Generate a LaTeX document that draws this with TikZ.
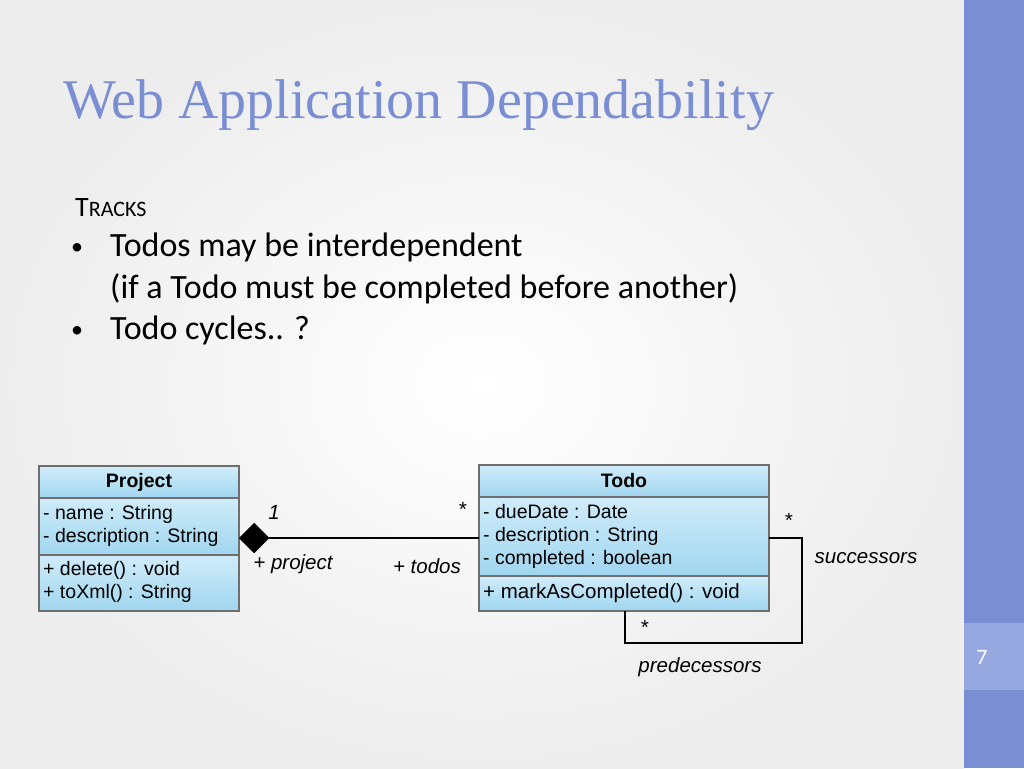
\documentclass[tikz,border=0pt]{standalone}
\usepackage{fontspec}
\setmainfont{Carlito}
\newfontfamily\titlefont{Liberation Serif}
\newfontfamily\umlfont{Liberation Sans}
\usetikzlibrary{shapes.geometric}
\definecolor{accent}{RGB}{122,142,212}
\definecolor{accentlt}{RGB}{150,168,224}
\definecolor{boxtop}{RGB}{208,236,250}
\definecolor{boxbot}{RGB}{160,214,240}
\definecolor{boxline}{RGB}{110,110,110}
\tikzset{
  cell/.style={draw=boxline,line width=1.8pt,top color=boxtop,bottom color=boxbot},
  umltxt/.style={font=\umlfont\fontsize{19.5}{23}\selectfont,anchor=west,align=left,inner sep=0pt},
  umlhead/.style={font=\umlfont\bfseries\fontsize{19.5}{23}\selectfont,inner sep=0pt},
  role/.style={font=\umlfont\itshape\fontsize{20.5}{24}\selectfont,inner sep=0pt},
  bodytxt/.style={font=\fontsize{34}{40}\selectfont,anchor=base west,inner sep=0pt},
}
\begin{document}
\begin{tikzpicture}[x=1pt,y=-1pt]
\useasboundingbox (0,0) rectangle (1024,768);
\shade[inner color=white,outer color=black!7] (0,0) rectangle (964,768);
\fill[accent] (964,0) rectangle (1024,768);
\fill[accentlt] (964,623) rectangle (1024,690);
\node[font=\fontsize{22}{26}\selectfont,text=white] (pg) at (982,657) {7};
\node[font=\titlefont\fontsize{56}{66}\selectfont,text=accent,anchor=base west,inner sep=0pt] (title) at (63,118) {Web Application Dependability};
\node[font=\fontsize{28}{32}\selectfont,anchor=base west,inner sep=0pt] (tr) at (75,216) {T{\fontsize{22}{26}\selectfont RACKS}};
\node[bodytxt] (b1) at (110,256) {Todos may be interdependent};
\node[bodytxt] (b1b) at (110,298) {(if a Todo must be completed before another)};
\node[bodytxt] (b2) at (110,339) {Todo cycles.. ?};
\node[font=\fontsize{24}{28}\selectfont,anchor=base west,inner sep=0pt] (d1) at (71,254) {\textbullet};
\node[font=\fontsize{24}{28}\selectfont,anchor=base west,inner sep=0pt] (d2) at (71,337) {\textbullet};
% Project
\draw[cell] (39,466) rectangle (239,498);
\draw[cell] (39,498) rectangle (239,555);
\draw[cell] (39,555) rectangle (239,611);
\coordinate (projR) at (239,538);
\node[umlhead] (ph) at (139,482) {Project};
\node[umltxt] (pa) at (43,526) {- name : String\\- description : String};
\node[umltxt] (pm) at (43,582) {+ delete() : void\\+ toXml() : String};
% Todo
\draw[cell] (479,465) rectangle (769,497);
\draw[cell] (479,497) rectangle (769,576);
\draw[cell] (479,576) rectangle (769,611);
\coordinate (todoL) at (479,538);
\coordinate (todoR) at (769,538);
\coordinate (todoB) at (625,611);
\node[umlhead] (th) at (624,481) {Todo};
\node[umltxt] (ta) at (483,536) {- dueDate : Date\\- description : String\\- completed : boolean};
\node[umltxt,font=\umlfont\fontsize{20.5}{24}\selectfont] (tm) at (483,593) {+ markAsCompleted() : void};
% association
\node[diamond,fill=black,draw=black,minimum width=30pt,minimum height=30pt,inner sep=0pt,anchor=west] (dia) at (projR) {};
\draw[line width=1.3pt] (dia.east) -- (todoL);
\draw[line width=1.3pt] (todoR) -- (802,538) -- (802,643) -- (625,643) -- (todoB);
\node[role] (m1) at (274,512) {1};
\node[role] (m2) at (462,509) {*};
\node[role] (m3) at (788,520) {*};
\node[role] (m4) at (644,627) {*};
\node[role] (rp) at (293,564) {+ project};
\node[role] (rt) at (427,566) {+ todos};
\node[role] (rs) at (866,558) {successors};
\node[role] (rd) at (700,667) {predecessors};
\end{tikzpicture}
\end{document}
